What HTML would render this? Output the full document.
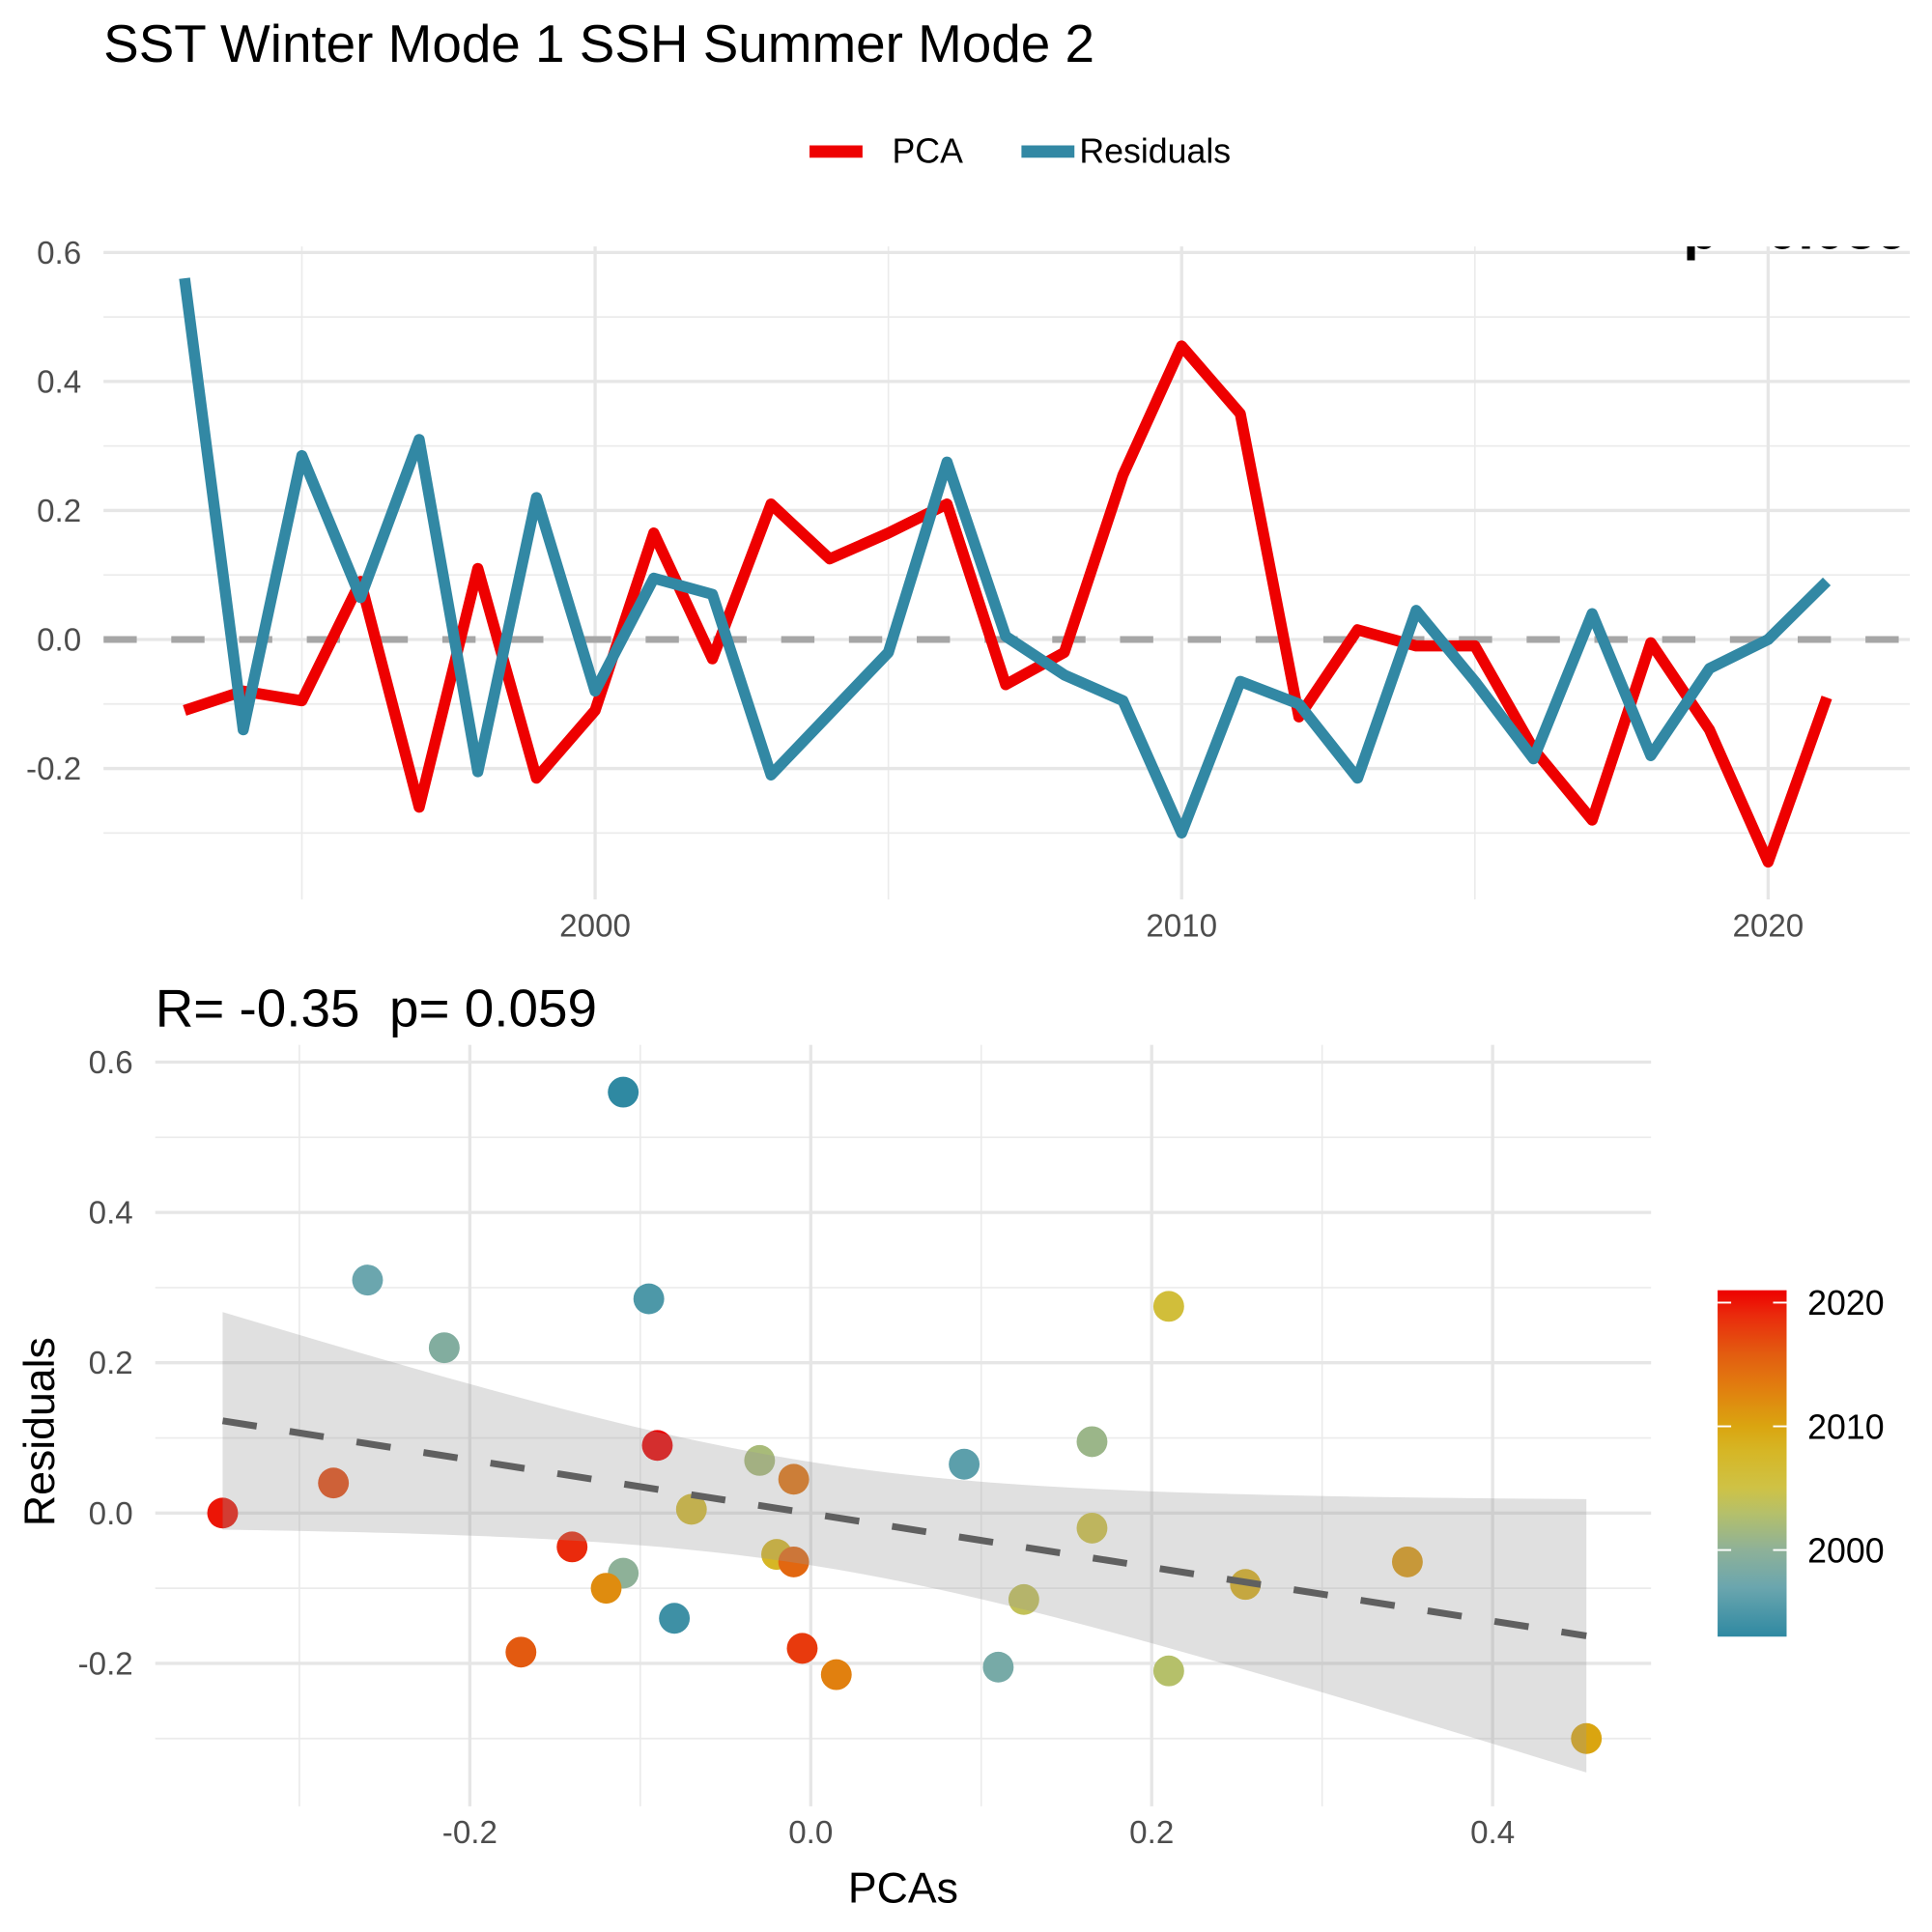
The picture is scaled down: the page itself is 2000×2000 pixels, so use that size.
<!DOCTYPE html>
<html><head><meta charset="utf-8"><style>
html,body{margin:0;padding:0;background:#fff;}
svg{display:block;font-family:"Liberation Sans",Arial,sans-serif;}
</style></head><body>
<svg id="chart" width="2000" height="2000" viewBox="0 0 1568 1568" xmlns="http://www.w3.org/2000/svg">
<defs>
<linearGradient id="cgrad" x1="0" y1="1" x2="0" y2="0">
<stop offset="0" stop-color="#2F89A2"/>
<stop offset="0.143" stop-color="#6BA6AE"/>
<stop offset="0.25" stop-color="#8EB198"/>
<stop offset="0.357" stop-color="#B5C06A"/>
<stop offset="0.43" stop-color="#CFC245"/>
<stop offset="0.536" stop-color="#D6B625"/>
<stop offset="0.607" stop-color="#DAA510"/>
<stop offset="0.714" stop-color="#E1800F"/>
<stop offset="0.821" stop-color="#E35A10"/>
<stop offset="0.929" stop-color="#EA2A0C"/>
<stop offset="1" stop-color="#EE0000"/>
</linearGradient>
<clipPath id="topclip"><rect x="84" y="200" width="1470" height="540"/></clipPath>
</defs>
</svg>
<script>
const years=[1993,1994,1995,1996,1997,1998,1999,2000,2001,2002,2003,2004,2005,2006,2007,2008,2009,2010,2011,2012,2013,2014,2015,2016,2017,2018,2019,2020,2021];
const pca=[-0.11,-0.08,-0.095,0.09,-0.26,0.11,-0.215,-0.11,0.165,-0.03,0.21,0.125,0.165,0.21,-0.07,-0.02,0.255,0.455,0.35,-0.12,0.015,-0.01,-0.01,-0.17,-0.28,-0.005,-0.14,-0.345,-0.09];
const resid=[0.56,-0.14,0.285,0.065,0.31,-0.205,0.22,-0.08,0.095,0.07,-0.21,-0.115,-0.02,0.275,0.005,-0.055,-0.095,-0.3,-0.065,-0.1,-0.215,0.045,-0.065,-0.185,0.04,-0.18,-0.045,0.0,0.09];
const topYTicks=[0.6,0.4,0.2,0.0,-0.2];
const topYLabels=["0.6","0.4","0.2","0.0","-0.2"];
const topXTicks=[2000,2010,2020];
const botXTicks=[-0.2,0.0,0.2,0.4];
const botXLabels=["-0.2","0.0","0.2","0.4"];
const botYTicks=[0.6,0.4,0.2,0.0,-0.2];
const botYLabels=["0.6","0.4","0.2","0.0","-0.2"];
const cbTicks=[2000,2010,2020];

const NS="http://www.w3.org/2000/svg";
const svg=document.getElementById('chart');
function mk(tag,attrs,parent){const e=document.createElementNS(NS,tag);for(const k in attrs)e.setAttribute(k,attrs[k]);(parent||svg).appendChild(e);return e;}

const tx=y=>483+(y-2000)*47.6;
const ty=v=>519-v*523.5;
const bx=v=>658+v*1383.5;
const by=v=>1228-v*610;
const cy=y=>1258-(y-2000)*10.04;

let t=mk('text',{x:84,y:50,'font-size':43,fill:'#000'});t.textContent='SST Winter Mode 1 SSH Summer Mode 2';



const lg=mk('g',{});


let lr=mk('rect',{x:657,y:118,width:43,height:10,fill:'#EE0000'},lg);


let lt=mk('text',{x:724,y:132,'font-size':28,fill:'#000'},lg);lt.textContent='PCA';


let lr2=mk('rect',{x:829,y:118,width:43,height:10,fill:'#3288A4'},lg);


let lt2=mk('text',{x:876,y:132,'font-size':28,fill:'#000'},lg);lt2.textContent='Residuals';



const tg=mk('g',{});


for(let v=-0.3;v<=0.51;v+=0.2){mk('line',{x1:84,x2:1550,y1:ty(v),y2:ty(v),stroke:'#ebebeb','stroke-width':1.3},tg);}
[1995,2005,2015].forEach(y=>mk('line',{x1:tx(y),x2:tx(y),y1:200,y2:730,stroke:'#ebebeb','stroke-width':1.3},tg));
topYTicks.forEach(v=>mk('line',{x1:84,x2:1550,y1:ty(v),y2:ty(v),stroke:'#e6e6e6','stroke-width':2.6},tg));
topXTicks.forEach(y=>mk('line',{x1:tx(y),x2:tx(y),y1:200,y2:730,stroke:'#e6e6e6','stroke-width':2.6},tg));
topYTicks.forEach((v,i)=>{const e=mk('text',{x:66,y:ty(v)+9,'font-size':26,fill:'#4d4d4d','text-anchor':'end'});e.textContent=topYLabels[i];

});
topXTicks.forEach(y=>{const e=mk('text',{x:tx(y),y:760,'font-size':26,fill:'#4d4d4d','text-anchor':'middle'});e.textContent=String(y);

});

const tc=mk('g',{'clip-path':'url(#topclip)'});


let ct=mk('text',{x:1366,y:202,'font-size':46,'font-weight':'bold',fill:'#000'},tc);ct.textContent='p= 0.059';


let zl=mk('line',{x1:84,x2:1550,y1:ty(0),y2:ty(0),stroke:'#a6a6a6','stroke-width':5.5,'stroke-dasharray':'27 28'},tc);


let p1=mk('polyline',{points:years.map((y,i)=>tx(y)+','+ty(pca[i])).join(' '),fill:'none',stroke:'#EE0000','stroke-width':9,'stroke-linejoin':'round'},tc);


let p2=mk('polyline',{points:years.map((y,i)=>tx(y)+','+ty(resid[i])).join(' '),fill:'none',stroke:'#3288A4','stroke-width':9,'stroke-linejoin':'round'},tc);



let st=mk('text',{x:126,y:833,'font-size':43,fill:'#000','xml:space':'preserve',style:'white-space:pre'});st.textContent='R= -0.35  p= 0.059';


const bg=mk('g',{});


for(let v=-0.3;v<=0.51;v+=0.2){mk('line',{x1:126,x2:1340,y1:by(v),y2:by(v),stroke:'#ebebeb','stroke-width':1.3},bg);}
[-0.3,-0.1,0.1,0.3].forEach(v=>mk('line',{x1:bx(v),x2:bx(v),y1:848,y2:1466,stroke:'#ebebeb','stroke-width':1.3},bg));
botYTicks.forEach(v=>mk('line',{x1:126,x2:1340,y1:by(v),y2:by(v),stroke:'#e6e6e6','stroke-width':2.6},bg));
botXTicks.forEach(v=>mk('line',{x1:bx(v),x2:bx(v),y1:848,y2:1466,stroke:'#e6e6e6','stroke-width':2.6},bg));
botYTicks.forEach((v,i)=>{const e=mk('text',{x:108,y:by(v)+9,'font-size':26,fill:'#4d4d4d','text-anchor':'end'});e.textContent=botYLabels[i];

});
botXTicks.forEach((v,i)=>{const e=mk('text',{x:bx(v),y:1496,'font-size':26,fill:'#4d4d4d','text-anchor':'middle'});e.textContent=botXLabels[i];

});
let xt=mk('text',{x:733,y:1544,'font-size':35,fill:'#000','text-anchor':'middle'});xt.textContent='PCAs';


let yt=mk('text',{x:0,y:0,'font-size':35,fill:'#000','text-anchor':'middle',transform:'translate(44,1162) rotate(-90)'});yt.textContent='Residuals';



const stops=[[1993,[47,137,162]],[1997,[107,166,174]],[2000,[142,177,152]],[2003,[181,192,106]],[2005,[207,194,69]],[2008,[214,182,37]],[2010,[218,165,16]],[2013,[225,128,15]],[2016,[227,90,16]],[2019,[234,42,12]],[2021,[238,0,0]]];
function col(y){for(let i=0;i<stops.length-1;i++){const a=stops[i],b=stops[i+1];if(y<=b[0]){const f=(y-a[0])/(b[0]-a[0]);const c=a[1].map((v,k)=>Math.round(v+(b[1][k]-v)*f));return 'rgb('+c.join(',')+')';}}return 'rgb(238,0,0)';}

const pg=mk('g',{});


years.forEach((y,i)=>{const c=mk('circle',{cx:bx(pca[i]),cy:by(resid[i]),r:12.5,fill:col(y)},pg);

});

const n=years.length;
const mx=pca.reduce((a,b)=>a+b,0)/n, my=resid.reduce((a,b)=>a+b,0)/n;
let sxx=0,sxy=0;for(let i=0;i<n;i++){sxx+=(pca[i]-mx)**2;sxy+=(pca[i]-mx)*(resid[i]-my);}
const slope=sxy/sxx, icpt=my-slope*mx;
let sse=0;for(let i=0;i<n;i++){sse+=(resid[i]-icpt-slope*pca[i])**2;}
const s=Math.sqrt(sse/(n-2)), tq=2.052;
const xmin=Math.min(...pca), xmax=Math.max(...pca);
const up=[],lo=[];
for(let k=0;k<=80;k++){const x=xmin+(xmax-xmin)*k/80;const f=icpt+slope*x;const se=s*Math.sqrt(1/n+(x-mx)**2/sxx);up.push(bx(x)+','+by(f+tq*se));lo.push(bx(x)+','+by(f-tq*se));}
let rb=mk('polygon',{points:up.concat(lo.reverse()).join(' '),fill:'#999999','fill-opacity':0.3});


let rl=mk('line',{x1:bx(xmin),y1:by(icpt+slope*xmin),x2:bx(xmax),y2:by(icpt+slope*xmax),stroke:'#606060','stroke-width':5.5,'stroke-dasharray':'28 27'});



const cb=mk('g',{});


mk('rect',{x:1394,y:cy(2021),width:56,height:cy(1993)-cy(2021),fill:'url(#cgrad)'},cb);
cbTicks.forEach(y=>{mk('line',{x1:1394,x2:1405,y1:cy(y),y2:cy(y),stroke:'#fff','stroke-width':1.5},cb);mk('line',{x1:1439,x2:1450,y1:cy(y),y2:cy(y),stroke:'#fff','stroke-width':1.5},cb);
const e=mk('text',{x:1467,y:cy(y)+10,'font-size':28,fill:'#000'},cb);e.textContent=String(y);

});
</script>
</body></html>
